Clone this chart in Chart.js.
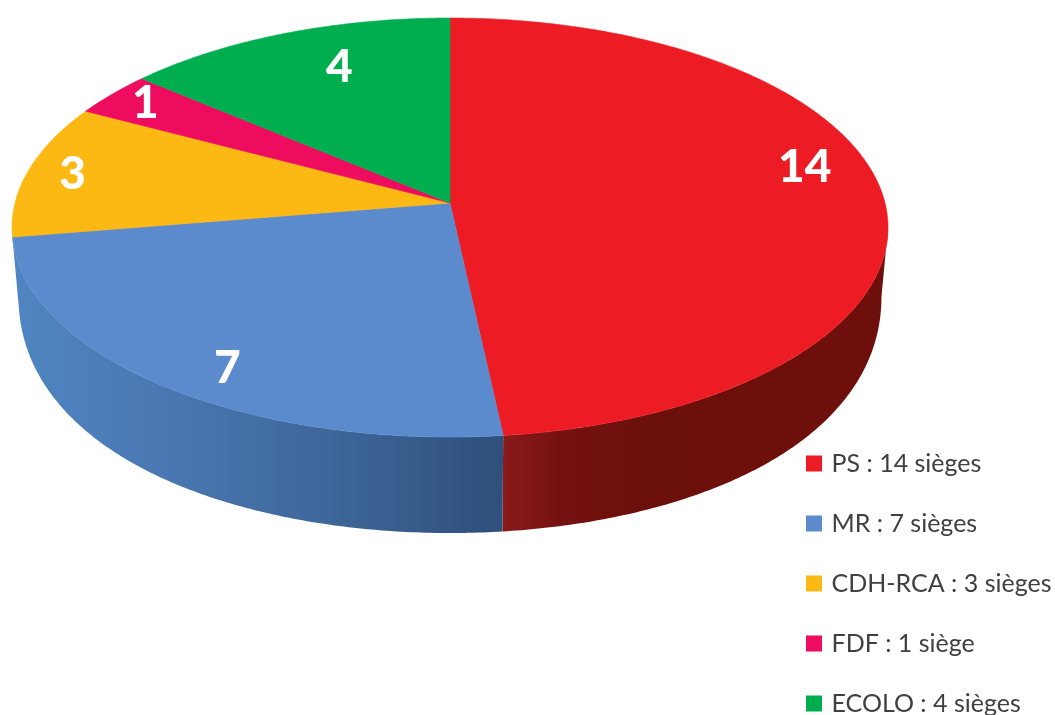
<!DOCTYPE html>
<html>
<head>
<meta charset="utf-8">
<style>
  html, body { margin: 0; padding: 0; background: #fff; }
  #wrap { width: 1055px; height: 715px; }
</style>
</head>
<body>
<div id="wrap"><canvas id="seats"></canvas></div>
<script src="https://cdn.jsdelivr.net/npm/chart.js@4"></script>
<script>
const parties = ['PS', 'MR', 'CDH-RCA', 'FDF', 'ECOLO'];
const seats = [14, 7, 3, 1, 4];
const colors = ['#ed1c24', '#5b8bcd', '#fdb913', '#ed0c5e', '#00ae50'];

// nudge of each number away from its slice's mid point, as placed in the original
const labelNudges = [[9, -27], [5, 23], [-39, -2], [-31, -12], [24, 2]];

// side wall shading per slice, left to right (only the two front slices show)
const wallStops = {
  0: { from: 503, to: 885, stops: [[0, '#8a1a1a'], [0.15, '#741210'], [0.4, '#6c100c'], [1, '#6e0f0b']] },
  1: { from: 15, to: 503, stops: [[0, '#4f85c2'], [0.3, '#4a78b2'], [0.65, '#3e6699'], [1, '#2f4f7c']] }
};

// perspective of the tilted disc
const apexX = 450;
const apexY = 203;
const radius = 435;
const tilt = -0.117;
const slant = 182.9;
const depthFront = 96;
const depthFall = 34;
const bottomShrink = 0.985;

function project(angle, r) {
  // angle from chart.js arcs: -PI/2 is the top of the disc
  const u = r * Math.cos(angle);
  const v = r * Math.sin(angle);
  const d = 1 + tilt * v;
  return { x: apexX + radius * u / d, y: (slant * v + apexY) / d };
}

function bottomPoint(angle) {
  const p = project(angle, 1);
  // wall looks thinner towards the sides of the disc
  const away = 1 - Math.sin(angle);
  return {
    x: apexX + (p.x - apexX) * bottomShrink,
    y: p.y + depthFront - depthFall * away * away
  };
}

function arcSteps(from, to) {
  const n = Math.max(2, Math.ceil(Math.abs(to - from) / 0.01));
  const out = [];
  for (let i = 0; i <= n; i++) {
    out.push(from + (to - from) * i / n);
  }
  return out;
}

function drawWall(ctx, arc, index) {
  const shade = wallStops[index];
  if (!shade) return;

  // the wall is only seen between the two widest points of the rim
  const limit = Math.asin(-tilt);
  const from = Math.max(arc.startAngle, limit);
  const to = Math.min(arc.endAngle, Math.PI - limit);
  const top = arcSteps(from, to).map(a => project(a, 1));
  const bottom = arcSteps(to, from).map(a => bottomPoint(a));

  const grad = ctx.createLinearGradient(shade.from, 0, shade.to, 0);
  shade.stops.forEach(s => grad.addColorStop(s[0], s[1]));

  ctx.beginPath();
  top.concat(bottom).forEach((p, i) => {
    if (i === 0) ctx.moveTo(p.x, p.y);
    else ctx.lineTo(p.x, p.y);
  });
  ctx.closePath();
  ctx.fillStyle = grad;
  ctx.fill();
}

function drawTop(ctx, arc, index) {
  ctx.beginPath();
  ctx.moveTo(apexX, apexY);
  arcSteps(arc.startAngle, arc.endAngle).forEach(a => {
    const p = project(a, 1);
    ctx.lineTo(p.x, p.y);
  });
  ctx.closePath();
  ctx.fillStyle = colors[index];
  ctx.strokeStyle = colors[index];
  ctx.lineWidth = 0.6;
  ctx.fill();
  ctx.stroke();
}

const tiltedPie = {
  id: 'tiltedPie',
  afterLayout(chart) {
    // legend sits in the bottom right corner
    chart.legend.left = 774;
    chart.legend.top = 416;
    chart.legend.bottom = 800;
  },
  beforeDatasetsDraw(chart) {
    const ctx = chart.ctx;
    const arcs = chart.getDatasetMeta(0).data;

    ctx.save();
    arcs.forEach((arc, i) => drawWall(ctx, arc, i));
    arcs.forEach((arc, i) => drawTop(ctx, arc, i));

    ctx.font = '900 46px Lato';
    ctx.textAlign = 'center';
    ctx.textBaseline = 'middle';
    ctx.fillStyle = '#fff';
    arcs.forEach((arc, i) => {
      const p = project((arc.startAngle + arc.endAngle) / 2, 0.8);
      ctx.fillText(String(seats[i]), p.x + labelNudges[i][0], p.y + labelNudges[i][1]);
    });
    ctx.restore();

    return false;
  }
};

new Chart(document.getElementById('seats'), {
  type: 'pie',
  data: {
    labels: parties.map((p, i) => p + ' : ' + seats[i] + (seats[i] > 1 ? ' sièges' : ' siège')),
    datasets: [{
      data: seats,
      backgroundColor: colors,
      // only shows on the legend squares: thick border keeps the text close to the box
      borderColor: colors,
      borderWidth: 6
    }]
  },
  options: {
    responsive: true,
    maintainAspectRatio: false,
    animation: false,
    events: [],
    plugins: {
      tooltip: { enabled: false },
      legend: {
        position: 'right',
        align: 'start',
        labels: {
          boxWidth: 10,
          boxHeight: 10,
          padding: 35,
          color: '#404040',
          font: { family: 'Lato', size: 25 }
        }
      }
    }
  },
  plugins: [tiltedPie]
});
</script>
</body>
</html>
